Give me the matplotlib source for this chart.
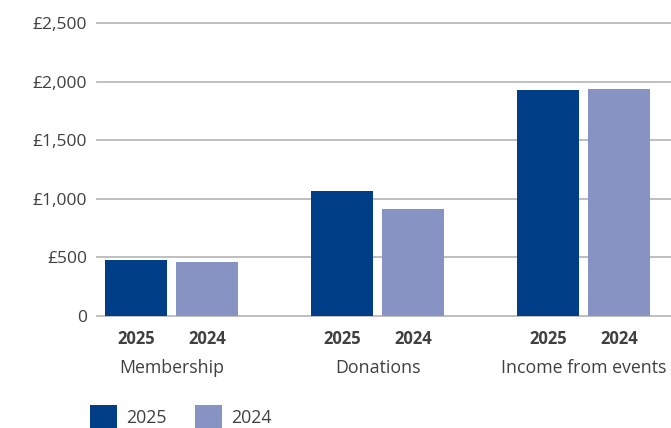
import matplotlib
matplotlib.use("Agg")
import matplotlib.pyplot as plt
from matplotlib.patches import Rectangle
from matplotlib.transforms import blended_transform_factory
import numpy as np

categories = ["Membership", "Donations", "Income from events"]
years = ["2025", "2024"]
values_2025 = [478, 1067, 1928]
values_2024 = [461, 913, 1937]
y_ticks = [0, 500, 1000, 1500, 2000, 2500]
y_tick_labels = ["0", "£500", "£1,000", "£1,500", "£2,000", "£2,500"]

colors = {"2025": "#003F87", "2024": "#8793C2"}
text_color = "#404040"
grid_color = "#BFBFBF"

plt.rcParams["font.family"] = ["Open Sans", "DejaVu Sans"]

W, H = 671, 428
fig = plt.figure(figsize=(W / 100, H / 100), dpi=100)
ax = fig.add_axes([97 / W, (H - 316) / H, (W - 97) / W, (316 - 23) / H])

x = np.arange(len(categories))
width = 0.301
offset = 0.1725
series = {"2025": values_2025, "2024": values_2024}
for i, yr in enumerate(years):
    ax.bar(x + (i * 2 - 1) * offset, series[yr], width=width,
           color=colors[yr], zorder=3)

ax.set_xlim(-0.362, 2.425)
ax.set_ylim(0, 2500)

for t in y_ticks:
    ax.axhline(t, color=grid_color, lw=1.4, zorder=1, clip_on=False)

ax.set_yticks(y_ticks)
ax.set_yticklabels(y_tick_labels, fontsize=12.5, color=text_color)
ax.tick_params(axis="y", length=0, pad=7)
ax.set_xticks([])
for s in ax.spines.values():
    s.set_visible(False)

trans = blended_transform_factory(ax.transData, fig.transFigure)
for xi, cat in zip(x, categories):
    for i, yr in enumerate(years):
        ax.text(xi + (i * 2 - 1) * offset, 1 - 339 / H, yr, transform=trans,
                ha="center", va="center", fontsize=12, fontweight="bold",
                color=text_color)
    ax.text(xi, 1 - 368 / H, cat, transform=trans, ha="center", va="center",
            fontsize=12.8, color=text_color)

# legend
legend_items = [("2025", 90, 126), ("2024", 195, 231)]
for yr, px, tx in legend_items:
    fig.add_artist(Rectangle((px / W, (H - 428) / H), 27 / W, 23 / H,
                             transform=fig.transFigure,
                             color=colors[yr], lw=0))
    fig.text(tx / W, 1 - 418 / H, yr, ha="left", va="center",
             fontsize=12.8, color=text_color)

fig.savefig("out.png", dpi=100)
